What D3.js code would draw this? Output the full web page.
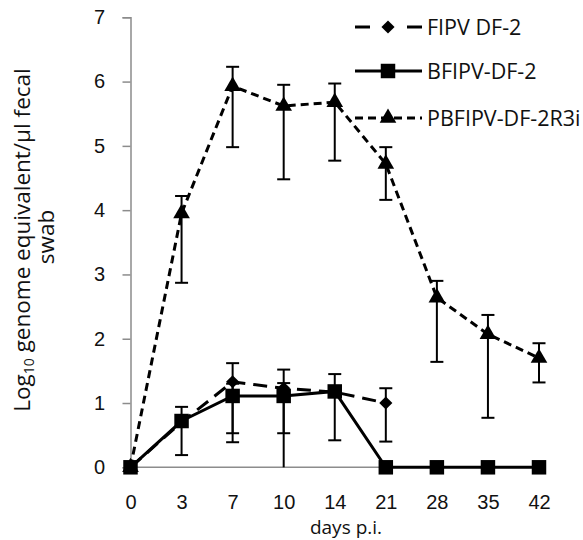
<!DOCTYPE html>
<html>
<head>
<meta charset="utf-8">
<script src="https://cdn.jsdelivr.net/npm/d3@7.9.0/dist/d3.min.js"></script>
<style>
  body { margin: 0; background: #fff; }
  svg { display: block; font-family: 'Open Sans', sans-serif; }
</style>
</head>
<body>
<svg id="chart" width="583" height="540"></svg>
<script>
// days post infection (categorical, evenly spaced)
const days = ['0', '3', '7', '10', '14', '21', '28', '35', '42'];
const yTicks = [0, 1, 2, 3, 4, 5, 6, 7];

// FIPV DF-2 (diamond, long dash)
const fipv = [0, 0.7, 1.33, 1.23, 1.17, 1.0, null, null, null];
const fipvLow = [null, null, 0.39, 0.53, null, 0.40, null, null, null];
const fipvHigh = [null, null, 1.62, 1.52, null, 1.23, null, null, null];

// BFIPV-DF-2 (square, solid)
const bfipv = [0, 0.72, 1.11, 1.11, 1.18, 0, 0, 0, 0];
const bfipvLow = [null, 0.19, 0.53, 0, 0.42, null, null, null, null];
const bfipvHigh = [null, 0.94, 1.30, 1.31, 1.45, null, null, null, null];

// PBFIPV-DF-2R3i (triangle, short dash)
const pbfipv = [0, 3.95, 5.93, 5.62, 5.68, 4.72, 2.64, 2.07, 1.70];
const pbfipvLow = [null, 2.87, 4.98, 4.48, 4.77, 4.16, 1.64, 0.77, 1.32];
const pbfipvHigh = [null, 4.22, 6.23, 5.95, 5.97, 4.98, 2.90, 2.37, 1.93];

const svg = d3.select('#chart');

const x = d3.scalePoint().domain(days).range([130.5, 539]);
const y = d3.scaleLinear().domain([0, 7]).range([467.3, 17.3]);

// y axis (grey, ticks outward)
const yAxis = svg.append('g')
    .attr('transform', `translate(${x('0')},0)`)
    .call(d3.axisLeft(y).tickValues(yTicks).tickSize(8).tickPadding(14).tickFormat(d3.format('d')));
yAxis.select('.domain').attr('stroke', '#8c8c8c').attr('stroke-width', 1.5);
yAxis.selectAll('.tick line').attr('stroke', '#8c8c8c').attr('stroke-width', 1.5);
yAxis.selectAll('.tick text')
    .attr('fill', '#111').style('font-size', '20px').attr('text-anchor', 'middle').attr('x', -31);

// x axis: line at 0 and labels, no ticks
svg.append('line')
    .attr('x1', x('0')).attr('x2', x('42'))
    .attr('y1', y(0)).attr('y2', y(0))
    .attr('stroke', '#8c8c8c').attr('stroke-width', 1.5);

const xAxis = svg.append('g')
    .attr('transform', `translate(0,${y(0)})`)
    .call(d3.axisBottom(x).tickSize(0).tickPadding(28));
xAxis.select('.domain').remove();
xAxis.selectAll('.tick text').attr('fill', '#111').style('font-size', '20px');

svg.append('text')
    .attr('x', 346).attr('y', 534)
    .attr('text-anchor', 'middle')
    .attr('fill', '#111').style('font-size', '19px')
    .text('days p.i.');

// y axis title, two lines
const yTitle = svg.append('text')
    .attr('transform', 'translate(30,240) rotate(-90)')
    .attr('text-anchor', 'middle')
    .attr('fill', '#111').style('font-size', '22.5px');
yTitle.append('tspan').text('Log');
yTitle.append('tspan').attr('dy', 4).style('font-size', '14px').text('10');
yTitle.append('tspan').attr('dy', -4).text(' genome equivalent/µl fecal');
svg.append('text')
    .attr('transform', 'translate(54,237) rotate(-90)')
    .attr('text-anchor', 'middle')
    .attr('fill', '#111').style('font-size', '22.5px')
    .text('swab');

const series = [
    { name: 'FIPV DF-2', vals: fipv, lo: fipvLow, hi: fipvHigh, dash: '14,8', sym: d3.symbolDiamond2, size: 110 },
    { name: 'BFIPV-DF-2', vals: bfipv, lo: bfipvLow, hi: bfipvHigh, dash: null, sym: d3.symbolSquare, size: 210 },
    { name: 'PBFIPV-DF-2R3i', vals: pbfipv, lo: pbfipvLow, hi: pbfipvHigh, dash: '8,5', sym: d3.symbolTriangle, size: 120 }
];

const line = d3.line()
    .defined(d => d.v !== null)
    .x(d => x(d.day))
    .y(d => y(d.v));

// error bars
series.forEach(s => {
    const bars = days.map((day, i) => ({ day, lo: s.lo[i], hi: s.hi[i] })).filter(d => d.lo !== null);
    const g = svg.append('g').attr('stroke', '#000').attr('stroke-width', 2);
    bars.forEach(b => {
        g.append('line').attr('x1', x(b.day)).attr('x2', x(b.day)).attr('y1', y(b.lo)).attr('y2', y(b.hi));
        [b.lo, b.hi].forEach(v => {
            if (v === 0) return;
            g.append('line').attr('x1', x(b.day) - 6.5).attr('x2', x(b.day) + 6.5).attr('y1', y(v)).attr('y2', y(v));
        });
    });
});

// lines and markers, drawn in order so the triangle series sits on top
[series[2], series[0], series[1]].forEach(s => {
    const pts = days.map((day, i) => ({ day, v: s.vals[i] }));
    svg.append('path')
        .datum(pts)
        .attr('d', line)
        .attr('fill', 'none')
        .attr('stroke', '#000')
        .attr('stroke-width', 3)
        .attr('stroke-dasharray', s.dash);
    svg.append('g').selectAll('path')
        .data(pts.filter(d => d.v !== null))
        .join('path')
        .attr('transform', d => `translate(${x(d.day)},${y(d.v)})`)
        .attr('d', d3.symbol().type(s.sym).size(s.size))
        .attr('fill', '#000');
});

// legend
const legend = svg.append('g');
series.forEach((s, i) => {
    const ly = [27, 71, 118][i];
    const row = legend.append('g').attr('transform', `translate(0,${ly})`);
    if (s.dash === '14,8') {
        row.append('line').attr('x1', 355).attr('x2', 370).attr('y1', 0).attr('y2', 0).attr('stroke', '#000').attr('stroke-width', 3);
        row.append('line').attr('x1', 407).attr('x2', 422).attr('y1', 0).attr('y2', 0).attr('stroke', '#000').attr('stroke-width', 3);
    } else {
        row.append('line').attr('x1', 355).attr('x2', 422).attr('y1', 0).attr('y2', 0)
            .attr('stroke', '#000').attr('stroke-width', 3).attr('stroke-dasharray', s.dash);
    }
    row.append('path').attr('transform', 'translate(388,0)')
        .attr('d', d3.symbol().type(s.sym).size(s.size)).attr('fill', '#000');
    row.append('text').attr('x', 427).attr('y', 0).attr('dy', '0.35em')
        .attr('fill', '#111').style('font-size', '21.5px').text(s.name);
});
</script>
</body>
</html>
